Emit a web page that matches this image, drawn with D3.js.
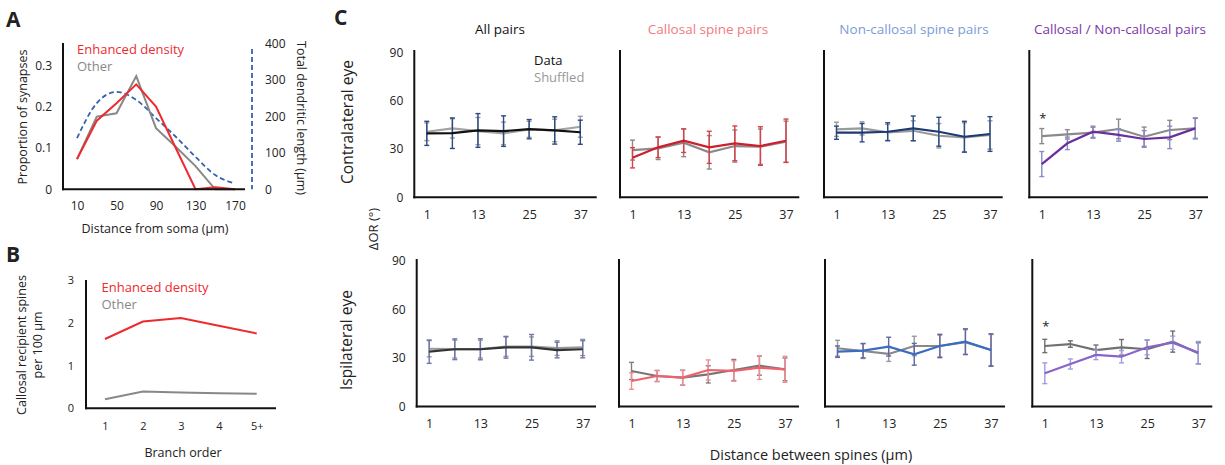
<!DOCTYPE html>
<html><head><meta charset="utf-8">
<script src="https://cdn.jsdelivr.net/npm/d3@7"></script>
<style>body{margin:0;background:#fff} svg{display:block} text{font-family:"Open Sans",sans-serif;fill:#222}</style>
</head><body><svg id="c" width="1225" height="465"></svg>
<script>
// ---------- Panel A data ----------
const distA = [10,30,50,70,90,110,130,150,170];
const enhancedA = [0.073,0.166,0.208,0.254,0.200,0.100,0.000,0.005,0.000];
const otherA = [0.073,0.176,0.184,0.274,0.148,0.103,0.056,0.000,0.000];
const lengthA = [140,236,267,245,195,144,89,39,16];
const ticksAx = [10,50,90,130,170];
const ticksAyL = [0,0.1,0.2,0.3];
const ticksAyR = [0,100,200,300,400];

// ---------- Panel B data ----------
const branchOrder = ["1","2","3","4","5+"];
const enhancedB = [1.62,2.03,2.11,1.93,1.75];
const otherB = [0.21,0.39,0.37,0.35,0.34];
const ticksBy = [0,1,2,3];

// ---------- Panel C data ----------
const spineDist = [1,7,13,19,25,31,37];
const ticksCx = [1,13,25,37];
const ticksCy = [0,30,60,90];
const panelTitles = ["All pairs","Callosal spine pairs","Non-callosal spine pairs","Callosal / Non-callosal pairs"];

// contralateral (top row)
const allContraData = [39.8,39.9,41.6,41.2,42.4,41.6,40.5];
const allContraDataErr = [7.5,9.5,10.5,9.5,6,8.5,7.5];
const allContraShuf = [40.8,42.9,41.2,39.8,42.3,41.6,43.9];
const allContraShufErr = [5.5,6,8.5,7,5,7,6.5];
const callContraData = [24.6,31.1,35.2,31.1,33.6,31.9,35.2];
const callContraDataErr = [6.3,6.4,7.3,10,10.8,12,13.5];
const callContraShuf = [29.4,30.5,34.0,28.0,31.9,31.5,34.6];
const callContraShufErr = [6.2,7,8.7,10.4,10,11,12.8];
const nonContraData = [40.2,40.2,40.8,42.9,40.8,37.7,39.4];
const nonContraDataErr = [4.1,5.7,5.6,7.7,9,9.6,10.8];
const nonContraShuf = [42.3,42.9,40.4,41.4,38.3,37.3,38.8];
const nonContraShufErr = [4.4,4.1,5,6.2,7.6,9.1,8.8];
const cnContraData = [20.7,33.6,40.8,38.8,36.3,37.3,42.9];
const cnContraDataErr = [7.8,3.9,3.5,3.9,5.2,7,6.6];
const cnContraShuf = [38.1,39.2,40.2,42.5,37.7,41.9,42.9];
const cnContraShufErr = [4.7,2.9,3.4,6.1,6,6,6.2];

// ipsilateral (bottom row)
const allIpsiData = [33.8,35.3,35.3,36.5,36.5,34.8,35.3];
const allIpsiDataErr = [7.2,6.4,6.5,6.7,7.9,4.8,5.3];
const allIpsiShuf = [35.6,35.4,35.4,36.9,36.9,36.0,36.4];
const allIpsiShufErr = [5,5.5,5.5,6,6,4.5,5];
const callIpsiData = [15.7,18.8,17.8,22.5,21.9,23.9,22.9];
const callIpsiDataErr = [5.1,3.4,4.4,6.2,6.3,7.2,8];
const callIpsiShuf = [21.9,18.8,17.8,19.8,22.5,25.2,22.9];
const callIpsiShufErr = [5.3,3.4,4.6,5.3,6.5,5.9,7];
const nonIpsiData = [33.8,34.4,36.9,32.2,37.3,40.0,34.8];
const nonIpsiDataErr = [3.5,4.4,5.8,6.7,7.2,7.9,10];
const nonIpsiShuf = [35.9,34.2,32.4,37.3,37.3,39.7,34.8];
const nonIpsiShufErr = [4.9,4.6,4.6,6,6.7,7.7,9.6];
const cnIpsiData = [20.5,26.2,31.8,30.7,36.5,39.3,33.2];
const cnIpsiDataErr = [6.4,3.1,2.9,3.8,4.6,4.1,6.9];
const cnIpsiShuf = [37.3,38.5,34.8,36.5,35.3,40.0,32.8];
const cnIpsiShufErr = [4.1,2,3.1,4.8,5.7,6.5,6.5];

const svg = d3.select("#c");
svg.append("rect").attr("width",1225).attr("height",465).attr("fill","#fff");

function axLine(g,x1,y1,x2,y2,w){
  g.append("line").attr("x1",x1).attr("y1",y1).attr("x2",x2).attr("y2",y2)
   .attr("stroke","#111").attr("stroke-width",w||2);
}
function txt(g,x,y,s,opts){
  opts=opts||{};
  const t=g.append("text").attr("x",x).attr("y",y).text(s)
    .attr("font-size",opts.size||13).attr("text-anchor",opts.anchor||"start");
  if(opts.fill) t.style("fill",opts.fill);
  if(opts.weight) t.attr("font-weight",opts.weight);
  if(opts.rotate!==undefined) t.attr("transform",`rotate(${opts.rotate},${x},${y})`).attr("dominant-baseline","central");
  return t;
}
function styleAxis(sel,size){
  sel.select(".domain").remove();
  sel.selectAll("text").attr("font-size",size).style("fill","#222").attr("font-family","Open Sans, sans-serif");
}

// ================= Panel A =================
{
  const g = svg.append("g");
  const x = d3.scaleLinear().domain([10,170]).range([77,235]);
  const yL = d3.scaleLinear().domain([0,0.354]).range([189.3,43]);
  const yR = d3.scaleLinear().domain([0,400]).range([189.3,43.3]);
  txt(g,6,27,"A",{size:21,weight:"bold"});
  g.append("path").datum(distA.map((d,i)=>[d,lengthA[i]]))
    .attr("d",d3.line().x(d=>x(d[0])).y(d=>yR(d[1])).curve(d3.curveMonotoneX))
    .attr("fill","none").attr("stroke","#3563ad").attr("stroke-width",1.8).attr("stroke-dasharray","5,3");
  g.append("path").datum(distA.map((d,i)=>[d,otherA[i]]))
    .attr("d",d3.line().x(d=>x(d[0])).y(d=>yL(d[1])))
    .attr("fill","none").attr("stroke","#888").attr("stroke-width",2);
  g.append("path").datum(distA.map((d,i)=>[d,enhancedA[i]]))
    .attr("d",d3.line().x(d=>x(d[0])).y(d=>yL(d[1])))
    .attr("fill","none").attr("stroke","#ee2a2f").attr("stroke-width",2);
  axLine(g,63,43,63,190.3,2);
  axLine(g,62,189.3,245,189.3,2);
  g.append("line").attr("x1",252).attr("y1",49).attr("x2",252).attr("y2",189.3)
    .attr("stroke","#3563ad").attr("stroke-width",1.8).attr("stroke-dasharray","5,3");
  styleAxis(g.append("g").attr("transform","translate(63,0)")
    .call(d3.axisLeft(yL).tickValues(ticksAyL).tickSize(0).tickPadding(11).tickFormat(d=>d===0?"0":d3.format(".1f")(d))),12);
  styleAxis(g.append("g").attr("transform","translate(252,0)")
    .call(d3.axisRight(yR).tickValues(ticksAyR).tickSize(0).tickPadding(13)),12);
  styleAxis(g.append("g").attr("transform","translate(0,189.3)")
    .call(d3.axisBottom(x).tickValues(ticksAx).tickSize(0).tickPadding(12)),12);
  txt(g,77,54,"Enhanced density",{size:13,fill:"#ee2a2f"});
  txt(g,77,71,"Other",{size:13,fill:"#888"});
  txt(g,22,117,"Proportion of synapses",{size:12.5,anchor:"middle",rotate:-90});
  txt(g,301,118,"Total dendritic length (µm)",{size:12.5,anchor:"middle",rotate:90});
  txt(g,155,233,"Distance from soma (µm)",{size:12.5,anchor:"middle"});
}

// ================= Panel B =================
{
  const g = svg.append("g");
  const x = d3.scalePoint().domain(branchOrder).range([105,256.7]);
  const y = d3.scaleLinear().domain([0,3]).range([408.3,280]);
  txt(g,6,262,"B",{size:21,weight:"bold"});
  g.append("path").datum(branchOrder.map((d,i)=>[d,otherB[i]]))
    .attr("d",d3.line().x(d=>x(d[0])).y(d=>y(d[1])))
    .attr("fill","none").attr("stroke","#888").attr("stroke-width",2);
  g.append("path").datum(branchOrder.map((d,i)=>[d,enhancedB[i]]))
    .attr("d",d3.line().x(d=>x(d[0])).y(d=>y(d[1])))
    .attr("fill","none").attr("stroke","#ee2a2f").attr("stroke-width",2);
  axLine(g,86,280,86,409.3,2);
  axLine(g,85,408.3,276,408.3,2);
  styleAxis(g.append("g").attr("transform","translate(86,0)")
    .call(d3.axisLeft(y).tickValues(ticksBy).tickSize(0).tickPadding(12).tickFormat(d3.format("d"))),11);
  styleAxis(g.append("g").attr("transform","translate(0,408.3)")
    .call(d3.axisBottom(x).tickSize(0).tickPadding(14)),11);
  txt(g,101.5,292,"Enhanced density",{size:13,fill:"#ee2a2f"});
  txt(g,101.5,308.5,"Other",{size:13,fill:"#888"});
  txt(g,21,345,"Callosal recipient spines",{size:12.5,anchor:"middle",rotate:-90});
  txt(g,37.5,345,"per 100 µm",{size:12.5,anchor:"middle",rotate:-90});
  txt(g,183,457,"Branch order",{size:12.5,anchor:"middle"});
}

// ================= Panel C =================
const topAxisX = [414.3,620,824,1029.3], topAxisEnd=[596.7,799.3,1002.7,1208];
const botAxisX = [416.7,619,825,1032.3], botAxisEnd=[596,799,1005,1212.3];
const titleX = [500,708,914,1120];
const titleColors = ["#111","#f27a80","#7c9bd8","#7a38a8"];
const rows = [
  {axisX:topAxisX,axisEnd:topAxisEnd,y0:197.3,y90:52.7,top:50,
   panels:[
    {d:allContraData,de:allContraDataErr,s:allContraShuf,se:allContraShufErr,dc:"#111",ec:"#2b4a85",sc:"#a3a3a3",sec:"#9a9a9a"},
    {d:callContraData,de:callContraDataErr,s:callContraShuf,se:callContraShufErr,dc:"#cc1f2b",ec:"#d8404a",sc:"#8a8a8a",sec:"#8a8a8a"},
    {d:nonContraData,de:nonContraDataErr,s:nonContraShuf,se:nonContraShufErr,dc:"#1d3a72",ec:"#2b4a85",sc:"#9a9a9a",sec:"#9a9a9a"},
    {d:cnContraData,de:cnContraDataErr,s:cnContraShuf,se:cnContraShufErr,dc:"#6b2e9e",ec:"#8a8cc6",sc:"#8a8a8a",sec:"#8a8a8a",star:true}
   ]},
  {axisX:botAxisX,axisEnd:botAxisEnd,y0:406.5,y90:260.5,top:259,
   panels:[
    {d:allIpsiData,de:allIpsiDataErr,s:allIpsiShuf,se:allIpsiShufErr,dc:"#333",ec:"#7076ae",sc:"#999",sec:"#999"},
    {d:callIpsiData,de:callIpsiDataErr,s:callIpsiShuf,se:callIpsiShufErr,dc:"#f2606c",ec:"#f28c94",sc:"#777",sec:"#808080"},
    {d:nonIpsiData,de:nonIpsiDataErr,s:nonIpsiShuf,se:nonIpsiShufErr,dc:"#3a6cc2",ec:"#6166a6",sc:"#888",sec:"#9a9a9a"},
    {d:cnIpsiData,de:cnIpsiDataErr,s:cnIpsiShuf,se:cnIpsiShufErr,dc:"#8a64c8",ec:"#9c9ee0",sc:"#707070",sec:"#707070",star:true}
   ]}
];

const gC = svg.append("g");
txt(gC,334,25,"C",{size:21,weight:"bold"});
panelTitles.forEach((t,i)=>txt(gC,titleX[i],34,t,{size:13.5,anchor:"middle",fill:titleColors[i]}));

function errBars(g,x,y,vals,errs,color){
  const grp=g.append("g").attr("stroke",color).attr("stroke-width",1.4).attr("fill","none");
  spineDist.forEach((d,i)=>{
    const cx=x(d), y1=y(vals[i]+errs[i]), y2=y(vals[i]-errs[i]);
    grp.append("line").attr("x1",cx).attr("x2",cx).attr("y1",y1).attr("y2",y2);
    grp.append("line").attr("x1",cx-2.5).attr("x2",cx+2.5).attr("y1",y1).attr("y2",y1);
    grp.append("line").attr("x1",cx-2.5).attr("x2",cx+2.5).attr("y1",y2).attr("y2",y2);
  });
}

rows.forEach((row,ri)=>{
  const y = d3.scaleLinear().domain([0,90]).range([row.y0,row.y90]);
  row.panels.forEach((p,pi)=>{
    const g = gC.append("g");
    const ax0 = row.axisX[pi];
    const x = d3.scaleLinear().domain([1,37]).range([ax0+12.5,ax0+166]);
    const line = d3.line().x((d,i)=>x(spineDist[i])).y(d=>y(d));
    errBars(g,x,y,p.s,p.se,p.sec);
    g.append("path").datum(p.s).attr("d",line).attr("fill","none").attr("stroke",p.sc).attr("stroke-width",2.2);
    errBars(g,x,y,p.d,p.de,p.ec);
    g.append("path").datum(p.d).attr("d",line).attr("fill","none").attr("stroke",p.dc).attr("stroke-width",2.2);
    axLine(g,ax0,row.top,ax0,row.y0+1,2);
    axLine(g,ax0-1,row.y0,row.axisEnd[pi],row.y0,2);
    styleAxis(g.append("g").attr("transform",`translate(0,${row.y0})`)
      .call(d3.axisBottom(x).tickValues(ticksCx).tickSize(0).tickPadding(13)),12.5);
    if(pi===0){
      styleAxis(g.append("g").attr("transform",`translate(${ax0},0)`)
        .call(d3.axisLeft(y).tickValues(ticksCy).tickSize(0).tickPadding(11)),12);
    }
    if(p.star){
      txt(g,x(1)+1,row.y0-(ri===0?74:76),"*",{size:13,anchor:"middle"});
    }
  });
});
txt(gC,534,65,"Data",{size:13,fill:"#111"});
txt(gC,534,81.5,"Shuffled",{size:13,fill:"#999"});
txt(gC,347,122,"Contralateral eye",{size:15.5,anchor:"middle",rotate:-90});
txt(gC,346,340,"Ispilateral eye",{size:15.5,anchor:"middle",rotate:-90});
txt(gC,373,229,"ΔOR (°)",{size:13,anchor:"middle",rotate:-90});
txt(gC,811,460,"Distance between spines (µm)",{size:14.5,anchor:"middle"});
</script></body></html>
